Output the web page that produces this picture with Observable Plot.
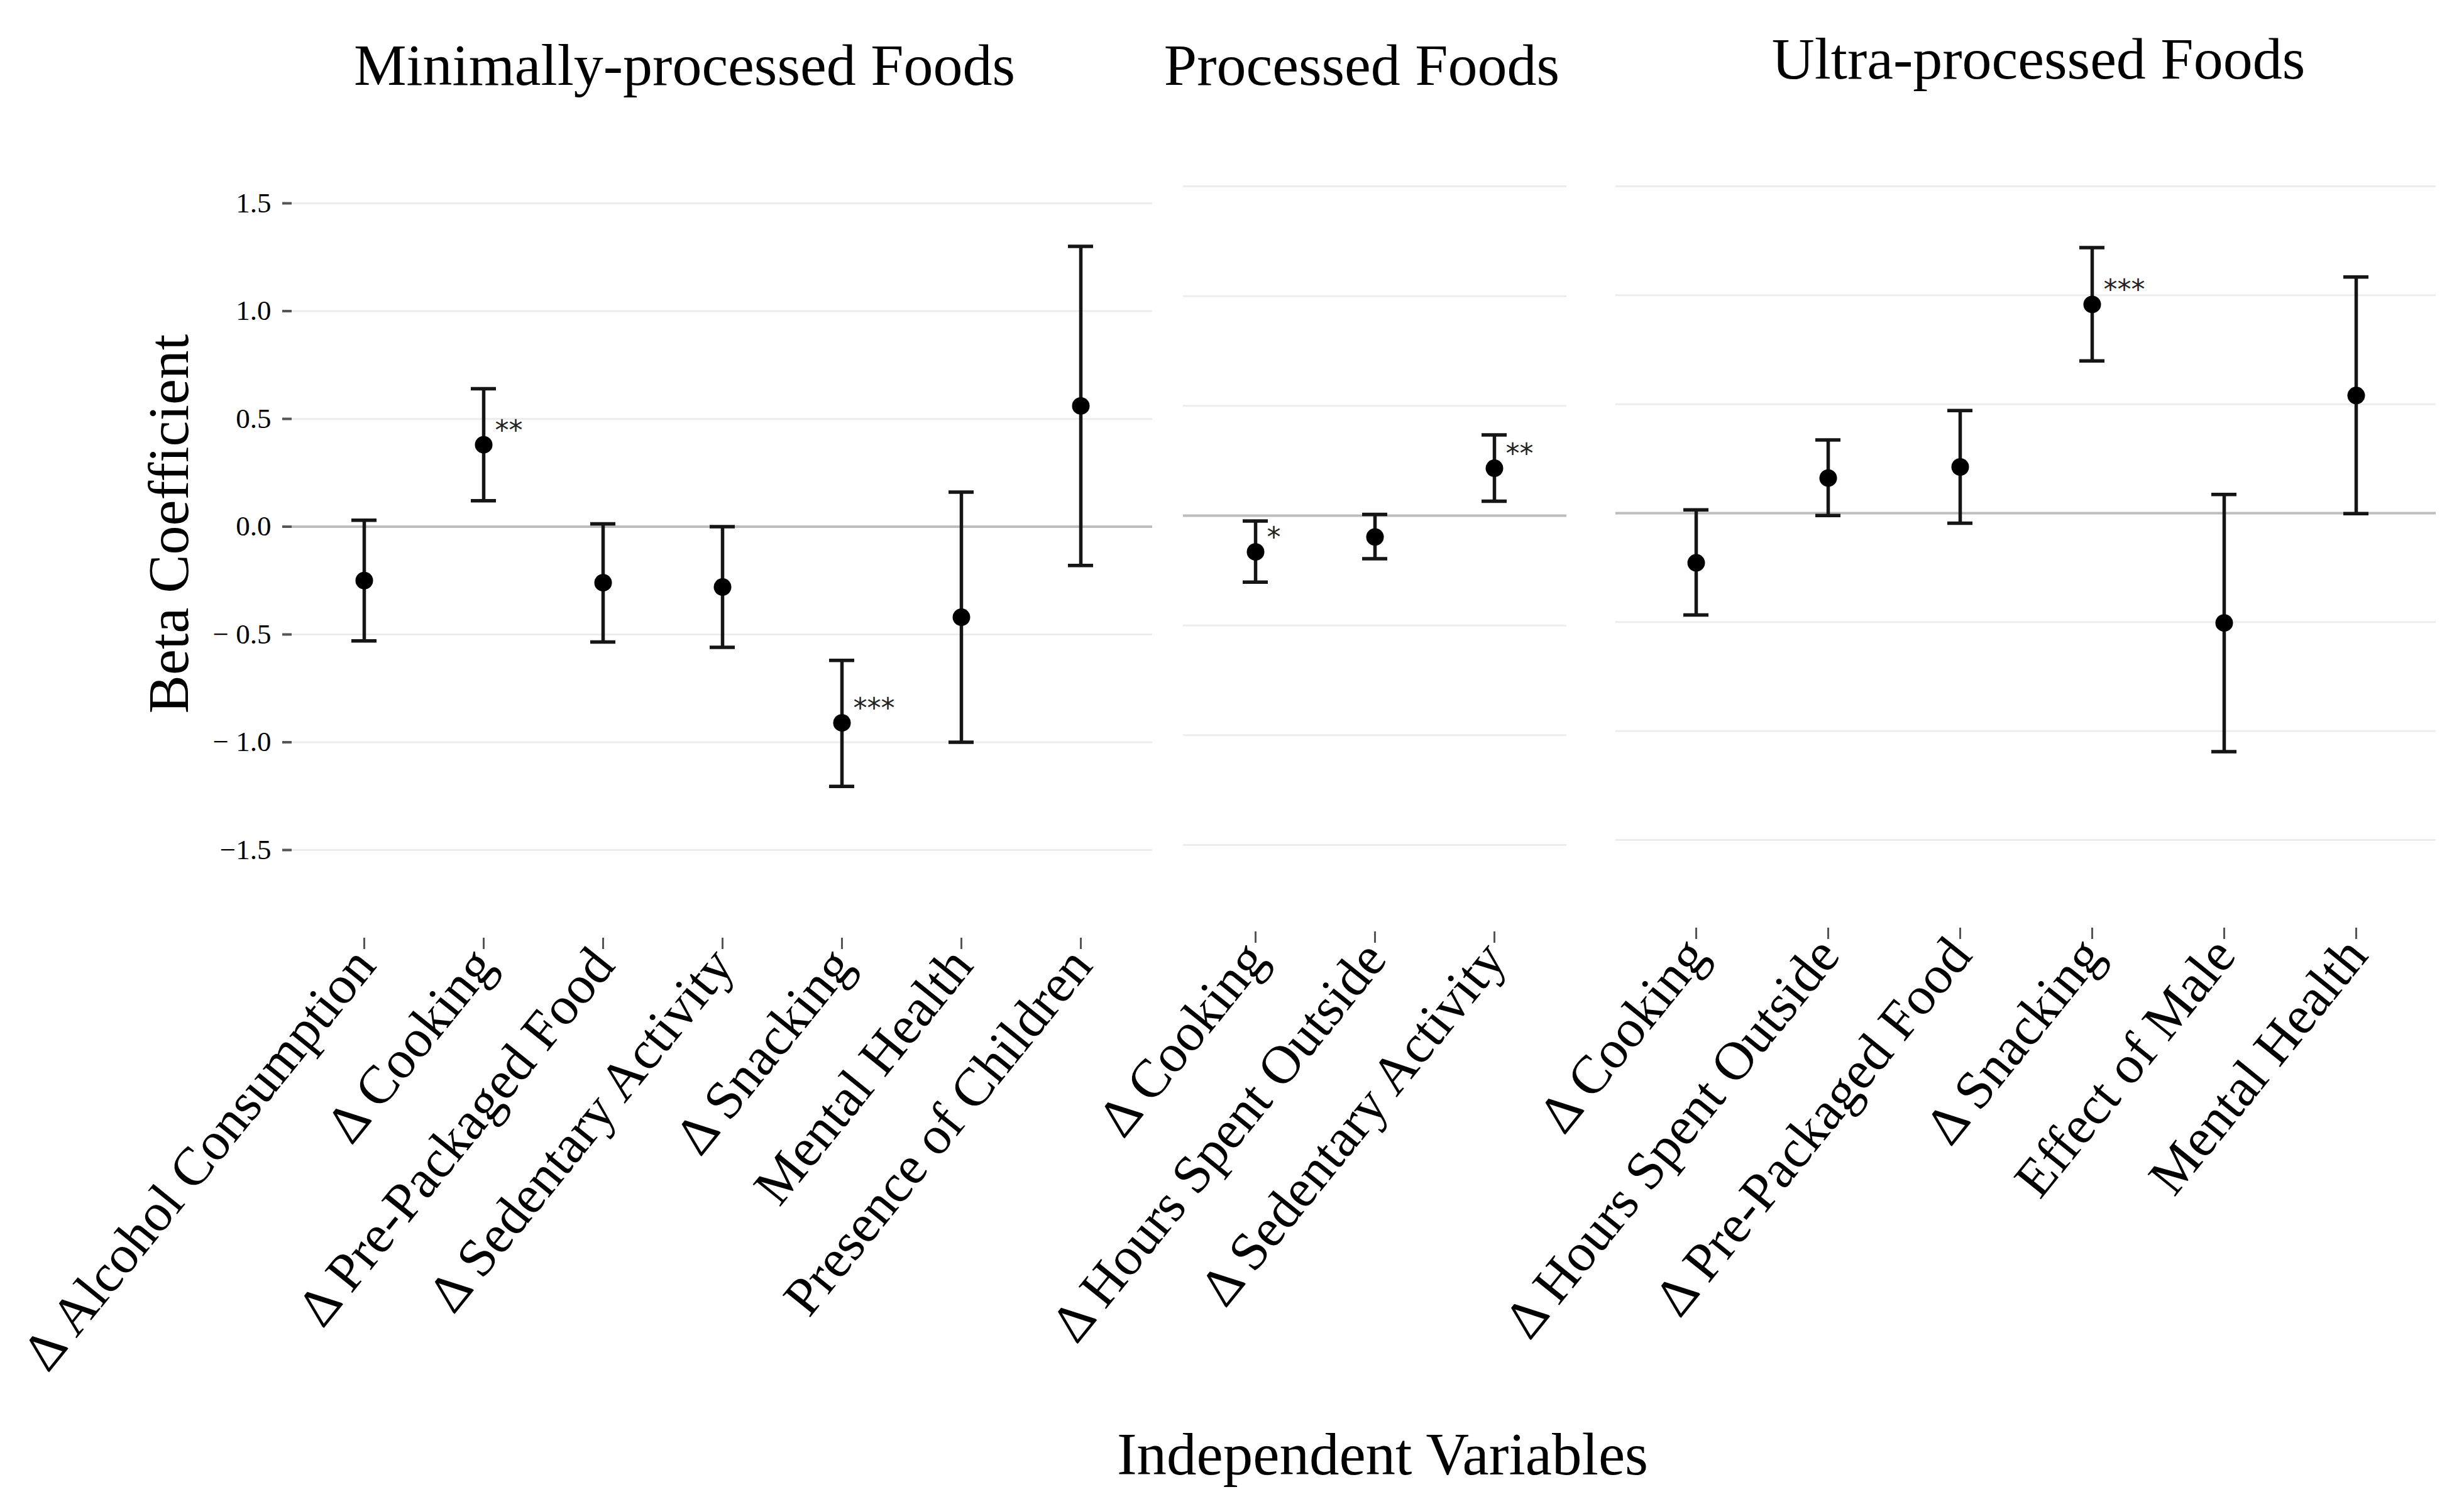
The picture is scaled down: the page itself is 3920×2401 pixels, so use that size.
<!DOCTYPE html>
<html><head><meta charset="utf-8">
<script src="https://cdn.jsdelivr.net/npm/d3@7"></script>
<script src="https://cdn.jsdelivr.net/npm/@observablehq/plot@0.6"></script>
<style>
html,body{margin:0;padding:0;background:#fff;}
#chart{position:relative;width:3920px;height:2401px;background:#fff;overflow:hidden;}
#chart svg{position:absolute;left:0;top:0;}
</style></head><body><div id="chart"></div>
<script>
// ---- data ----
const panelTitles = ["Minimally-processed Foods", "Processed Foods", "Ultra-processed Foods"];
const axisTitleX = "Independent Variables";
const axisTitleY = "Beta Coefficient";

const minCats  = ["Δ Alcohol Consumption", "Δ Cooking", "Δ Pre-Packaged Food", "Δ Sedentary Activity", "Δ Snacking", "Mental Health", "Presence of Children"];
const minBeta  = [-0.25, 0.38, -0.26, -0.28, -0.91, -0.42, 0.56];
const minLower = [-0.53, 0.12, -0.535, -0.56, -1.205, -1.0, -0.18];
const minUpper = [0.03, 0.64, 0.013, 0.0, -0.62, 0.16, 1.30];
const minSig   = ["", "**", "", "", "***", "", ""];

const procCats  = ["Δ Cooking", "Δ Hours Spent Outside", "Δ Sedentary Activity"];
const procBeta  = [-0.165, -0.097, 0.216];
const procLower = [-0.303, -0.196, 0.066];
const procUpper = [-0.024, 0.006, 0.368];
const procSig   = ["*", "", "**"];

const ultraCats  = ["Δ Cooking", "Δ Hours Spent Outside", "Δ Pre-Packaged Food", "Δ Snacking", "Effect of Male", "Mental Health"];
const ultraBeta  = [-0.228, 0.161, 0.212, 0.958, -0.504, 0.54];
const ultraLower = [-0.467, -0.011, -0.046, 0.699, -1.095, -0.002];
const ultraUpper = [0.015, 0.336, 0.471, 1.219, 0.086, 1.084];
const ultraSig   = ["", "", "", "***", "", ""];

const yTicks = [-1.5, -1, -0.5, 0, 0.5, 1, 1.5];
const yTickLabels = ["−1.5", "− 1.0", "− 0.5", "0.0", "0.5", "1.0", "1.5"];

// ---- layout (pixel geometry of each panel) ----
const W = 3920, H = 2401;
const FONT = "'Liberation Serif', 'DejaVu Serif', serif";
const layouts = [
  {left: 464,  right: 1833, yBottom: 1352, yTop: 323, axisY: 1492, titleDx: -60, titleY: 134},
  {left: 1882, right: 2492, yBottom: 1344, yTop: 296, axisY: 1482, titleDx: -21, titleY: 134},
  {left: 2570, right: 3875, yBottom: 1336, yTop: 296, axisY: 1476, titleDx: 20,  titleY: 124}
];

function makePanel(idx, cats, beta, lower, upper, sig) {
  const L = layouts[idx];
  const rows = cats.map((c, i) => ({cat: c, beta: beta[i], lo: lower[i], hi: upper[i], sig: sig[i]}));
  const marks = [
    Plot.ruleY(yTicks.filter(v => v !== 0), {stroke: "#ededed", strokeWidth: 3}),
    Plot.ruleY([0], {stroke: "#bdbdbd", strokeWidth: 4}),
    Plot.ruleX(rows, {x: "cat", y1: "lo", y2: "hi", stroke: "#151515", strokeWidth: 5.5}),
    Plot.ruleY(rows, {x1: "cat", x2: "cat", y: "lo", stroke: "#151515", strokeWidth: 5.5, insetLeft: -20, insetRight: -20}),
    Plot.ruleY(rows, {x1: "cat", x2: "cat", y: "hi", stroke: "#151515", strokeWidth: 5.5, insetLeft: -20, insetRight: -20}),
    Plot.dot(rows, {x: "cat", y: "beta", r: 14, fill: "#000", stroke: "none"}),
    Plot.text(rows.filter(d => d.sig), {x: "cat", y: "beta", text: "sig", textAnchor: "start", dx: 18, dy: -22, fontSize: 44, fill: "#222", fontFamily: "'DejaVu Sans', sans-serif"}),
    Plot.axisX({tickRotate: -51, tickSize: 18, tickPadding: 10, fontSize: 86, fontFamily: FONT, stroke: "#555", strokeWidth: 3, fill: "#000", label: null}),
    Plot.text([panelTitles[idx]], {text: d => d, frameAnchor: "top", lineAnchor: "bottom", dx: L.titleDx, dy: L.titleY - 140, fontSize: 94, fontFamily: FONT, fill: "#000"})
  ];
  if (idx === 0) {
    marks.push(Plot.axisY({ticks: yTicks, tickFormat: d => yTickLabels[yTicks.indexOf(d)], tickSize: 15, tickPadding: 18, fontSize: 45, fontFamily: FONT, stroke: "#555", strokeWidth: 4, fill: "#000", label: null}));
    marks.push(Plot.text([axisTitleY], {text: d => d, frameAnchor: "left", rotate: -90, textAnchor: "middle", lineAnchor: "middle", dx: 269 - L.left, dy: 833 - (140 + L.axisY) / 2, fontSize: 92, fontFamily: FONT, fill: "#000"}));
  } else {
    marks.push(Plot.axisY({ticks: []}));
  }
  if (idx === 1) {
    marks.push(Plot.text([axisTitleX], {text: d => d, frameAnchor: "bottom", lineAnchor: "bottom", dx: 2199 - (L.left + L.right) / 2, dy: 2345 - L.axisY, fontSize: 95, fontFamily: FONT, fill: "#000"}));
  }
  return Plot.plot({
    width: W, height: H,
    marginLeft: L.left, marginRight: W - L.right,
    marginTop: 140, marginBottom: H - L.axisY,
    style: {background: "transparent", overflow: "visible", fontFamily: FONT},
    x: {type: "point", domain: cats, padding: 0.6},
    y: {domain: [-1.5, 1.5], range: [L.yBottom, L.yTop]},
    marks
  });
}

const chart = document.getElementById("chart");
chart.appendChild(makePanel(0, minCats, minBeta, minLower, minUpper, minSig));
chart.appendChild(makePanel(1, procCats, procBeta, procLower, procUpper, procSig));
chart.appendChild(makePanel(2, ultraCats, ultraBeta, ultraLower, ultraUpper, ultraSig));
</script></body></html>
